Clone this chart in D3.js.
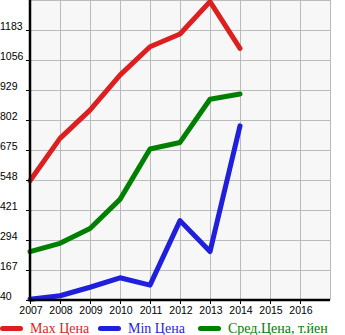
<!DOCTYPE html>
<html>
<head>
<meta charset="utf-8">
<script src="https://cdn.jsdelivr.net/npm/d3@7"></script>
<style>
  html, body { margin: 0; padding: 0; background: #ffffff; }
  svg { display: block; }
</style>
</head>
<body>
<svg id="chart" width="345" height="335"></svg>
<script>
// Price history by model year
const years = [2007, 2008, 2009, 2010, 2011, 2012, 2013, 2014];
const axisYears = [2007, 2008, 2009, 2010, 2011, 2012, 2013, 2014, 2015, 2016];
const maxPrice = [545, 724, 844, 992, 1112, 1166, 1303, 1105];
const minPrice = [43, 58, 94, 134, 103, 376, 245, 777];
const avgPrice = [245, 280, 343, 466, 679, 707, 890, 912];
const yTicks = [40, 167, 294, 421, 548, 675, 802, 929, 1056, 1183];
const legendLabels = ["Max Цена", "Min Цена", "Сред.Цена, т.йен"];

const colors = ["#dd1f1f", "#1f1fdd", "#008000"];

const svg = d3.select("#chart");
const plotLeft = 30, plotRight = 330, plotTop = 0, plotBottom = 300;

const x = d3.scaleLinear().domain([2007, 2017]).range([plotLeft, plotLeft + 300]);
const y = d3.scaleLinear().domain([40, 1310]).range([plotBottom, plotTop]);

// plot background
svg.append("rect")
  .attr("x", plotLeft).attr("y", plotTop)
  .attr("width", plotRight - plotLeft).attr("height", plotBottom - plotTop)
  .attr("fill", "#f7f7f7");

// grid
const grid = svg.append("g").attr("stroke", "#bbbbbb").attr("stroke-width", 1);
d3.range(2008, 2018).forEach(v => {
  grid.append("line")
    .attr("x1", x(v) + 0.5).attr("x2", x(v) + 0.5)
    .attr("y1", plotTop).attr("y2", plotBottom);
});
yTicks.concat([1310]).forEach(v => {
  grid.append("line")
    .attr("x1", plotLeft).attr("x2", plotRight)
    .attr("y1", Math.round(y(v)) + 0.5).attr("y2", Math.round(y(v)) + 0.5);
});

// series lines
const line = d3.line()
  .x((d, i) => x(years[i]))
  .y(d => y(d));

[maxPrice, minPrice, avgPrice].forEach((series, k) => {
  svg.append("path")
    .datum(series)
    .attr("d", line)
    .attr("fill", "none")
    .attr("stroke", colors[k])
    .attr("stroke-width", 5)
    .attr("stroke-linejoin", "round")
    .attr("stroke-linecap", "round");
});

// axes
const axisG = svg.append("g");
axisG.append("line")
  .attr("x1", plotLeft).attr("x2", plotLeft)
  .attr("y1", plotTop).attr("y2", plotBottom + 1)
  .attr("stroke", "#000").attr("stroke-width", 2.5);
axisG.append("line")
  .attr("x1", plotLeft).attr("x2", plotRight)
  .attr("y1", plotBottom).attr("y2", plotBottom)
  .attr("stroke", "#000").attr("stroke-width", 2.5);

// y ticks and labels
yTicks.forEach(v => {
  const yy = Math.round(y(v));
  axisG.append("line")
    .attr("x1", plotLeft - 4).attr("x2", plotLeft)
    .attr("y1", yy + 0.5).attr("y2", yy + 0.5)
    .attr("stroke", "#000").attr("stroke-width", 1);
  axisG.append("text")
    .attr("x", 0).attr("y", yy - 0.5)
    .attr("font-family", "Liberation Sans, Arial, sans-serif")
    .attr("font-size", 10.5)
    .attr("fill", "#000")
    .text(v);
});

// x ticks and labels
axisYears.forEach(v => {
  const xx = x(v);
  axisG.append("line")
    .attr("x1", xx + 0.5).attr("x2", xx + 0.5)
    .attr("y1", plotBottom).attr("y2", plotBottom + 4)
    .attr("stroke", "#000").attr("stroke-width", 1);
  axisG.append("text")
    .attr("x", xx + 1).attr("y", 314)
    .attr("text-anchor", "middle")
    .attr("font-family", "Liberation Sans, Arial, sans-serif")
    .attr("font-size", 10.5)
    .attr("fill", "#000")
    .text(v);
});

// legend
const legendX = [0, 98, 198];
legendLabels.forEach((label, k) => {
  const g = svg.append("g").attr("transform", `translate(${legendX[k]},0)`);
  g.append("line")
    .attr("x1", 2.5).attr("x2", 20.5)
    .attr("y1", 328.5).attr("y2", 328.5)
    .attr("stroke", colors[k]).attr("stroke-width", 5)
    .attr("stroke-linecap", "round");
  g.append("text")
    .attr("x", 30).attr("y", 333)
    .attr("font-family", "Liberation Serif, Times New Roman, serif")
    .attr("font-size", 14)
    .attr("fill", colors[k])
    .text(label);
});
</script>
</body>
</html>
